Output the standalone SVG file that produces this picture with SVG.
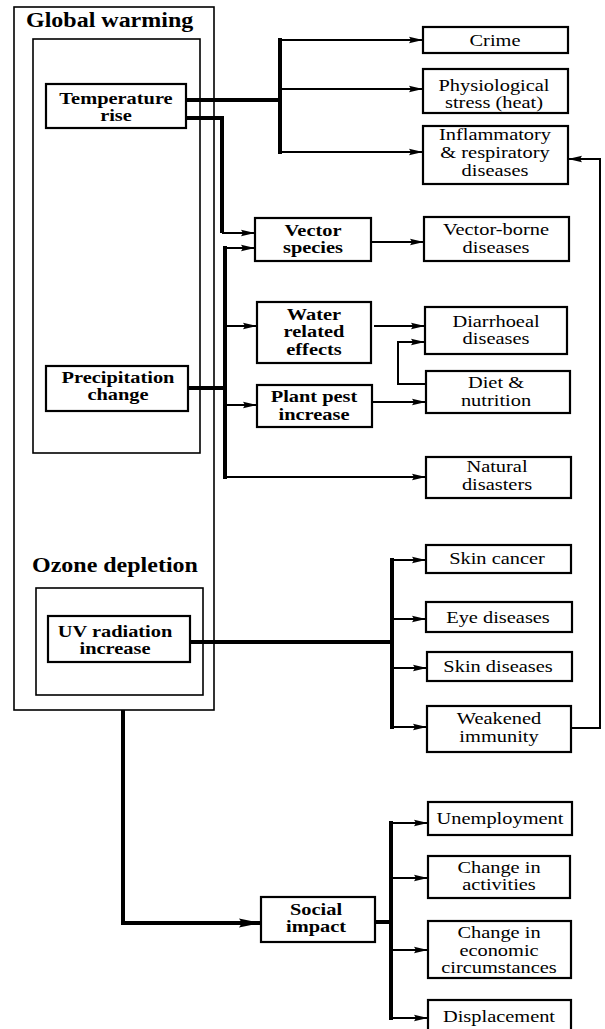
<svg xmlns="http://www.w3.org/2000/svg" width="605" height="1029" viewBox="0 0 605 1029">
<style>
.box{fill:#fff;stroke:#000;stroke-width:2.2}
.cont{fill:none;stroke:#000;stroke-width:1.6}
.t{font-family:"Liberation Serif","Times New Roman",serif;font-size:17px;text-anchor:middle;fill:#000}
.b{font-weight:bold}
.h{font-family:"Liberation Serif","Times New Roman",serif;font-size:20px;font-weight:bold;fill:#000}
.thin{fill:none;stroke:#000;stroke-width:2}
.thick{fill:none;stroke:#000;stroke-width:4}
</style>
<defs>
<marker id="a" viewBox="0 0 14 8" refX="14" refY="4" markerWidth="14" markerHeight="8" markerUnits="userSpaceOnUse" orient="auto"><path d="M0,0.8 L14,4 L0,7.2 L2,4 z" fill="#000"/></marker>
<marker id="ab" viewBox="0 0 22 10" refX="22" refY="5" markerWidth="22" markerHeight="10" markerUnits="userSpaceOnUse" orient="auto"><path d="M0,0.5 L22,5 L0,9.5 L3,5 z" fill="#000"/></marker>
</defs>
<rect width="605" height="1029" fill="#fff"/>

<g id="global-warming">
<rect class="cont" x="14" y="7" width="200" height="703"/>
<text class="h" transform="translate(26,27) scale(1.2,1)">Global warming</text>
<rect class="cont" x="33" y="39" width="167" height="414"/>
</g>
<g id="ozone-depletion">
<text class="h" transform="translate(32,572) scale(1.2,1)">Ozone depletion</text>
<rect class="cont" x="36" y="588" width="167" height="107"/>
</g>

<g id="connectors">
<path class="thick" d="M186,100 H280"/>
<path class="thick" d="M280,38 V154"/>
<path class="thin" d="M280,40 H423" marker-end="url(#a)"/>
<path class="thin" d="M280,89 H423" marker-end="url(#a)"/>
<path class="thin" d="M280,152 H423" marker-end="url(#a)"/>
<path class="thick" d="M186,118 H222 V233"/>
<path class="thin" d="M222,233 H255" marker-end="url(#a)"/>
<path class="thick" d="M188,388 H225"/>
<path class="thick" d="M225,246 V479"/>
<path class="thin" d="M225,248 H255" marker-end="url(#a)"/>
<path class="thin" d="M225,326 H257" marker-end="url(#a)"/>
<path class="thin" d="M225,405 H257" marker-end="url(#a)"/>
<path class="thin" d="M225,477 H426" marker-end="url(#a)"/>
<path class="thin" d="M371,242 H424" marker-end="url(#a)"/>
<path class="thin" d="M374,326 H425" marker-end="url(#a)"/>
<path class="thin" d="M426,384 H398 V342 H425" marker-end="url(#a)"/>
<path class="thin" d="M372,402 H426" marker-end="url(#a)"/>
<path class="thick" d="M190,642 H392"/>
<path class="thick" d="M392,558 V729"/>
<path class="thin" d="M392,560 H426" marker-end="url(#a)"/>
<path class="thin" d="M392,619 H426" marker-end="url(#a)"/>
<path class="thin" d="M392,668 H427" marker-end="url(#a)"/>
<path class="thin" d="M392,727 H427" marker-end="url(#a)"/>
<path class="thin" d="M571,728 H600 V159 H568" marker-end="url(#a)"/>
<path class="thick" d="M123,710 V923 H261" marker-end="url(#ab)"/>
<path class="thick" d="M375,922 H391"/>
<path class="thick" d="M391,821 V1020"/>
<path class="thin" d="M391,823 H428" marker-end="url(#a)"/>
<path class="thin" d="M391,878 H428" marker-end="url(#a)"/>
<path class="thin" d="M391,950 H428" marker-end="url(#a)"/>
<path class="thin" d="M391,1018 H428" marker-end="url(#a)"/>
</g>

<g id="temperature-rise">
<rect class="box" x="46" y="84" width="140" height="44"/>
<text class="t b" transform="translate(116,104) scale(1.2,1)"><tspan x="0" y="0">Temperature</tspan><tspan x="0" y="17">rise</tspan></text>
</g>
<g id="precipitation-change">
<rect class="box" x="46" y="366" width="142" height="45"/>
<text class="t b" transform="translate(118,383) scale(1.2,1)"><tspan x="0" y="0">Precipitation</tspan><tspan x="0" y="17">change</tspan></text>
</g>
<g id="uv-radiation">
<rect class="box" x="48" y="616" width="142" height="46"/>
<text class="t b" transform="translate(115,637) scale(1.2,1)"><tspan x="0" y="0">UV radiation</tspan><tspan x="0" y="17">increase</tspan></text>
</g>

<g id="crime">
<rect class="box" x="423" y="27" width="145" height="26"/>
<text class="t" transform="translate(495,46) scale(1.2,1)">Crime</text>
</g>
<g id="physiological-stress">
<rect class="box" x="423" y="69" width="145" height="44"/>
<text class="t" transform="translate(494,91) scale(1.2,1)"><tspan x="0" y="0">Physiological</tspan><tspan x="0" y="17.5">stress (heat)</tspan></text>
</g>
<g id="inflammatory">
<rect class="box" x="423" y="126" width="145" height="58"/>
<text class="t" transform="translate(495,140) scale(1.2,1)"><tspan x="0" y="0">Inflammatory</tspan><tspan x="0" y="18">&amp; respiratory</tspan><tspan x="0" y="36">diseases</tspan></text>
</g>
<g id="vector-species">
<rect class="box" x="255" y="218" width="116" height="43"/>
<text class="t b" transform="translate(313,236) scale(1.2,1)"><tspan x="0" y="0">Vector</tspan><tspan x="0" y="17">species</tspan></text>
</g>
<g id="vector-borne">
<rect class="box" x="424" y="217" width="145" height="44"/>
<text class="t" transform="translate(496,235) scale(1.2,1)"><tspan x="0" y="0">Vector-borne</tspan><tspan x="0" y="18">diseases</tspan></text>
</g>
<g id="water-related">
<rect class="box" x="257" y="302" width="114" height="61"/>
<text class="t b" transform="translate(314,320) scale(1.2,1)"><tspan x="0" y="0">Water</tspan><tspan x="0" y="17.5">related</tspan><tspan x="0" y="35">effects</tspan></text>
</g>
<g id="diarrhoeal">
<rect class="box" x="425" y="307" width="142" height="47"/>
<text class="t" transform="translate(496,327) scale(1.2,1)"><tspan x="0" y="0">Diarrhoeal</tspan><tspan x="0" y="17">diseases</tspan></text>
</g>
<g id="diet-nutrition">
<rect class="box" x="426" y="371" width="144" height="42"/>
<text class="t" transform="translate(496,388) scale(1.2,1)"><tspan x="0" y="0">Diet &amp;</tspan><tspan x="0" y="18">nutrition</tspan></text>
</g>
<g id="plant-pest">
<rect class="box" x="257" y="385" width="115" height="42"/>
<text class="t b" transform="translate(314,402) scale(1.2,1)"><tspan x="0" y="0">Plant pest</tspan><tspan x="0" y="18">increase</tspan></text>
</g>
<g id="natural-disasters">
<rect class="box" x="426" y="457" width="145" height="41"/>
<text class="t" transform="translate(497,472) scale(1.2,1)"><tspan x="0" y="0">Natural</tspan><tspan x="0" y="18">disasters</tspan></text>
</g>
<g id="skin-cancer">
<rect class="box" x="426" y="545" width="145" height="28"/>
<text class="t" transform="translate(497,564) scale(1.2,1)">Skin cancer</text>
</g>
<g id="eye-diseases">
<rect class="box" x="426" y="602" width="146" height="30"/>
<text class="t" transform="translate(498,623) scale(1.2,1)">Eye diseases</text>
</g>
<g id="skin-diseases">
<rect class="box" x="427" y="652" width="145" height="29"/>
<text class="t" transform="translate(498,672) scale(1.2,1)">Skin diseases</text>
</g>
<g id="weakened-immunity">
<rect class="box" x="427" y="706" width="144" height="46"/>
<text class="t" transform="translate(499,724) scale(1.2,1)"><tspan x="0" y="0">Weakened</tspan><tspan x="0" y="18">immunity</tspan></text>
</g>
<g id="social-impact">
<rect class="box" x="261" y="897" width="114" height="45"/>
<text class="t b" transform="translate(316,915) scale(1.2,1)"><tspan x="0" y="0">Social</tspan><tspan x="0" y="17">impact</tspan></text>
</g>
<g id="unemployment">
<rect class="box" x="428" y="802" width="144" height="33"/>
<text class="t" transform="translate(500,824) scale(1.2,1)">Unemployment</text>
</g>
<g id="change-activities">
<rect class="box" x="428" y="856" width="142" height="42"/>
<text class="t" transform="translate(499,873) scale(1.2,1)"><tspan x="0" y="0">Change in</tspan><tspan x="0" y="17">activities</tspan></text>
</g>
<g id="change-economic">
<rect class="box" x="428" y="921" width="143" height="57"/>
<text class="t" transform="translate(499,938) scale(1.2,1)"><tspan x="0" y="0">Change in</tspan><tspan x="0" y="18">economic</tspan><tspan x="0" y="35">circumstances</tspan></text>
</g>
<g id="displacement">
<rect class="box" x="428" y="1000" width="143" height="36"/>
<text class="t" transform="translate(499,1022) scale(1.2,1)">Displacement</text>
</g>
</svg>
